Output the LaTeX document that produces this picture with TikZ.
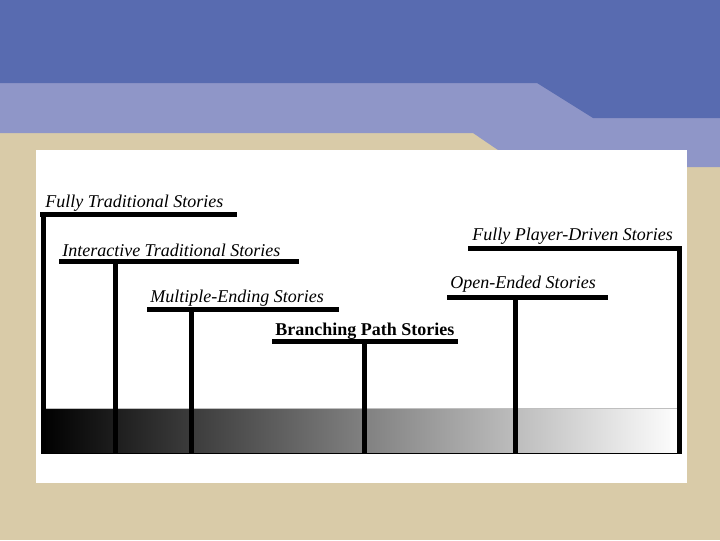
\documentclass[tikz,border=0pt]{standalone}
\usepackage{fontspec}
\setmainfont{Liberation Serif}
\definecolor{slidetan}{RGB}{217,203,168}
\definecolor{slideblue}{RGB}{88,107,176}
\definecolor{slidelilac}{RGB}{143,150,200}
\tikzset{
  storytext/.style={font=\fontsize{13.5}{16}\selectfont\itshape, anchor=base west, inner sep=0pt},
  storybar/.style={line width=3.75pt, line cap=butt},
}

\begin{document}
\begin{tikzpicture}[x=0.75pt, y=-0.75pt]
  \useasboundingbox (0,0) rectangle (720,540);
  % slide background
  \fill[slidetan] (0,0) rectangle (720,540);
  \fill[slidelilac] (0,83) -- (720,83) -- (720,167) -- (523,167) -- (473,133) -- (0,133) -- cycle;
  \fill[slideblue] (0,0) -- (720,0) -- (720,118) -- (593,118) -- (537,83) -- (0,83) -- cycle;
  \fill[white] (36,150) rectangle (687,483);

  % grey scale bar
  \shade[left color=black, right color=white] (41,408) rectangle (682,453);
  \draw[black!25, line width=0.75pt] (41,408) -- (682,408);
  \coordinate (scale-foot) at (41,453);
  \draw[line width=0.75pt] (scale-foot) -- (682,453);

  % labels
  \node[storytext] (fullytrad) at (45,207) {Fully Traditional Stories};
  \node[storytext] (interact) at (62,256) {Interactive Traditional Stories};
  \node[storytext] (multiend) at (150,302) {Multiple-Ending Stories};
  \node[storytext, font=\fontsize{13.5}{16}\selectfont\bfseries] (branch) at (275,335) {Branching Path Stories};
  \node[storytext] (openend) at (450,288) {Open-Ended Stories};
  \node[storytext] (fullyplay) at (472,240) {Fully Player-Driven Stories};

  % bars under the labels
  \foreach \l/\r/\y in {40/237/214.5, 59/299/261.5, 147/339/309.5, 272/458/341.5, 447/608/297.5, 468/682/248.5}
    \draw[storybar] (\l,\y) -- (\r,\y);

  % stems down to the scale
  \foreach \x/\y in {43.5/214.5, 115.5/261.5, 191.5/309.5, 364/341.5, 515.5/297.5, 679.5/248.5}
    \draw[storybar] (\x,\y) -- (\x,\y |- scale-foot);
\end{tikzpicture}
\end{document}
